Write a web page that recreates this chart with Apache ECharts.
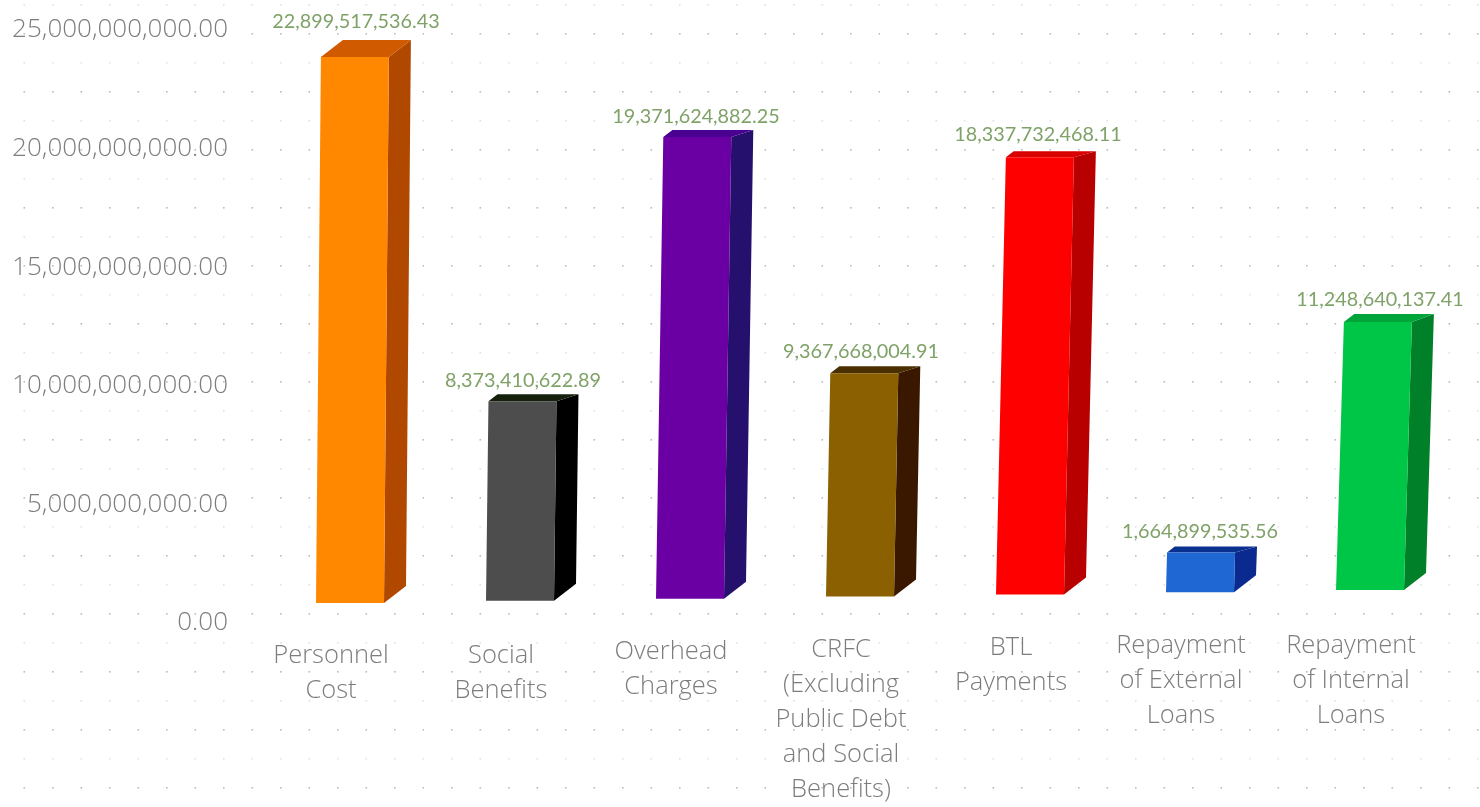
<!DOCTYPE html>
<html><head><meta charset="utf-8">
<style>html,body{margin:0;padding:0;background:#fff}#main{width:1480px;height:807px;filter:blur(0.6px)}</style>
<script src="https://cdn.jsdelivr.net/npm/echarts@6/dist/echarts.min.js"></script>
</head><body><div id="main"></div>
<script>
const categories = ['Personnel\nCost','Social\nBenefits','Overhead\nCharges','CRFC\n(Excluding\nPublic Debt\nand Social\nBenefits)','BTL\nPayments','Repayment\nof External\nLoans','Repayment\nof Internal\nLoans'];
const values = [22899517536.43,8373410622.89,19371624882.25,9367668004.91,18337732468.11,1664899535.56,11248640137.41];
const frontColors = ['#ff8800','#4d4d4d','#6a00a4','#8a6000','#ff0000','#1f68d4','#00c648'];
const sideColors  = ['#b04800','#000000','#25106e','#3a1800','#b80000','#0a2a90','#008028'];
const topColors   = ['#d05a00','#14200c','#4a0090','#4a3000','#d80000','#0a3090','#00a53a'];
const labelNudge  = [25,22,25,20,27,19,29];
const labelRaise  = [19,14,13,15,17,15,14];
const labelDrop   = [10,10,6,4,2,0,0];
const topDepth    = [17,7,7,7,6,6,8];

const fmt = v => Number(v).toLocaleString('en-US',{minimumFractionDigits:2,maximumFractionDigits:2});

// faint dotted backdrop
const tile = document.createElement('canvas'); tile.width = 57; tile.height = 58;
const c = tile.getContext('2d');
const dot = (x,y,col)=>{c.fillStyle=col;c.fillRect(x,y,1.6,1.6);};
[23.5,52].forEach(x=>{dot(x,33,'#bdbdbd');dot(x,4,'#e2e2e2');});

function renderBar(params, api){
  const i = api.value(0), v = api.value(1);
  const base = api.coord([i,0]), tip = api.coord([i,v]);
  const w = 68, dx = 22, dy = 17;
  const cx = base[0] + 19;
  const lift = 17 + 0.0127*(cx-351);
  const x0 = cx - w/2, x1 = cx + w/2;
  const h = (base[1]-tip[1])*1.005;
  const yb = base[1] - lift, yt = yb - h;
  const lean = h*(0.009 + 0.00002*(cx-351));
  const poly = (pts,col)=>({type:'polygon',shape:{points:pts},style:{fill:col}});
  const tx0 = x0+lean, tx1 = x1+lean;
  const d = topDepth[i], dl = dx*d/dy;
  return {type:'group',children:[
    poly([[x1,yb],[x1+dx,yb-dy],[tx1+dx,yt-d],[tx1,yt]],sideColors[i]),
    poly([[tx0,yt],[tx0+dl,yt-d],[tx1+dx,yt-d],[tx1,yt]],topColors[i]),
    poly([[x0,yb],[x1,yb],[tx1,yt],[tx0,yt]],frontColors[i]),
    {type:'text',style:{text:fmt(v),x:base[0]+labelNudge[i],y:yt-d-labelRaise[i],align:'center',verticalAlign:'middle',
      font:'19.8px Lato',fill:'#7fa268'}}
  ]};
}

const chart = echarts.init(document.getElementById('main'));
chart.setOption({
  animation:false,
  backgroundColor:{image:tile,repeat:'repeat'},
  grid:{left:246,top:27,width:1190,bottom:187,containLabel:false,outerBoundsMode:'none'},
  xAxis:{type:'category',
    data:categories.map((t,i)=>({value:t,textStyle:{padding:[labelDrop[i],0,0,0]}})),
    axisLine:{show:false},axisTick:{show:false},
    axisLabel:{interval:0,margin:8,color:'#7d7d7d',fontFamily:'Open Sans',fontWeight:300,fontSize:25.5,lineHeight:35}},
  yAxis:{type:'value',min:0,max:25000000000,interval:5000000000,
    axisLine:{show:false},axisTick:{show:false},splitLine:{show:false},
    axisLabel:{margin:18,color:'#7d7d7d',fontFamily:'Open Sans',fontWeight:300,fontSize:26,verticalAlign:'top',lineHeight:6,formatter:fmt}},
  series:[{type:'custom',clip:false,renderItem:renderBar,
    encode:{x:0,y:1},data:values.map((v,i)=>[i,v])}]
});
</script></body></html>
